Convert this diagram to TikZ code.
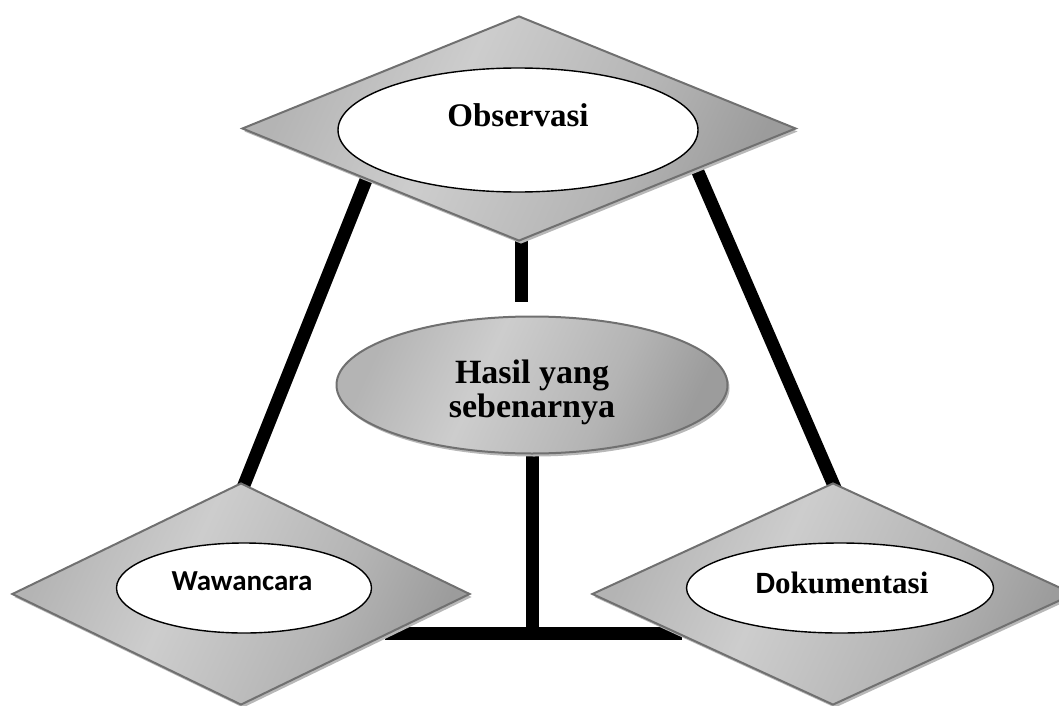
\documentclass[tikz,border=0pt]{standalone}
\usepackage{fontspec}
\setmainfont{Liberation Serif}
\newfontfamily\calib{Carlito}
\usetikzlibrary{shapes.geometric,shadows}
\pgfdeclarelayer{bg}
\pgfsetlayers{bg,main}
\definecolor{gL}{HTML}{CDCDCD}
\definecolor{gM}{HTML}{B4B4B4}
\definecolor{gD}{HTML}{9C9C9C}
\definecolor{gB}{HTML}{707070}
\definecolor{gS}{HTML}{B8B8B8}
\pgfdeclarehorizontalshading{wordgrad}{100bp}{color(0bp)=(gM); color(25bp)=(gM); color(42bp)=(gL); color(62bp)=(gM); color(75bp)=(gD); color(100bp)=(gD)}
\begin{document}
\begin{tikzpicture}[x=1pt,y=-1pt,
  diam/.style={diamond, draw=gB, line width=2pt, shading=wordgrad, shading angle=-25, inner sep=0pt,
    drop shadow={shadow xshift=2pt, shadow yshift=-3pt, fill=gS, opacity=1}},
  wellipse/.style={ellipse, draw=black, line width=1.4pt, fill=white, inner sep=0pt},
  gellipse/.style={ellipse, draw=gB, line width=2pt, shading=wordgrad, shading angle=-25, inner sep=0pt,
    drop shadow={shadow xshift=2pt, shadow yshift=-3pt, fill=gS, opacity=1}},
  sertext/.style={inner sep=0pt, font=\bfseries\fontsize{33}{34}\selectfont},
  santext/.style={inner sep=0pt, font=\calib\bfseries\fontsize{29}{32}\selectfont},
  conn/.style={line width=13pt, draw=black}]
\useasboundingbox (0,0) rectangle (1059,706);

% top: Observasi
\node[diam, minimum width=554, minimum height=225] (obsD) at (519,128.5) {};
\node[wellipse, minimum width=360, minimum height=124] (obsE) at (518,130) {};
\node[sertext] (obsT) at (518,115) {Observasi};

% left: Wawancara
\node[diam, minimum width=458, minimum height=222] (wawD) at (241,594) {};
\node[wellipse, minimum width=255, minimum height=90] (wawE) at (244,588) {};
\node[santext] (wawT) at (242,581) {Wawancara};

% right: Dokumentasi
\node[diam, minimum width=482, minimum height=222] (dokD) at (833,594) {};
\node[wellipse, minimum width=307, minimum height=90] (dokE) at (840,588) {};
\node[inner sep=0pt, font=\bfseries\fontsize{31}{34}\selectfont] (dokT) at (842,583) {{\calib D}okumentasi};

% centre: Hasil yang sebenarnya
\node[gellipse, minimum width=391, minimum height=137] (hasil) at (532,385) {};
\node[sertext, align=center, font=\bfseries\fontsize{34}{34}\selectfont] (hasilT) at (532,392) {Hasil yang\\sebenarnya};

% connector end points (hidden under the shapes)
\coordinate (la) at (370,170);
\coordinate (lb) at (240,495);
\coordinate (ra) at (695,165);
\coordinate (rb) at (838,495);
\coordinate (sa) at (521,235);
\coordinate (sb) at (521,302);
\coordinate (jn) at (531.5,633);
\coordinate (hl) at (385,633);
\coordinate (hr) at (682,633);

\begin{pgfonlayer}{bg}
  \draw[conn] (la) -- (lb);
  \draw[conn] (ra) -- (rb);
  \draw[conn] (sa) -- (sb);
  \draw[conn] ([yshift=10pt]hasil.south) -- (hasil.south |- jn);
  \draw[conn] (hl) -- (hr);
\end{pgfonlayer}
\end{tikzpicture}
\end{document}
